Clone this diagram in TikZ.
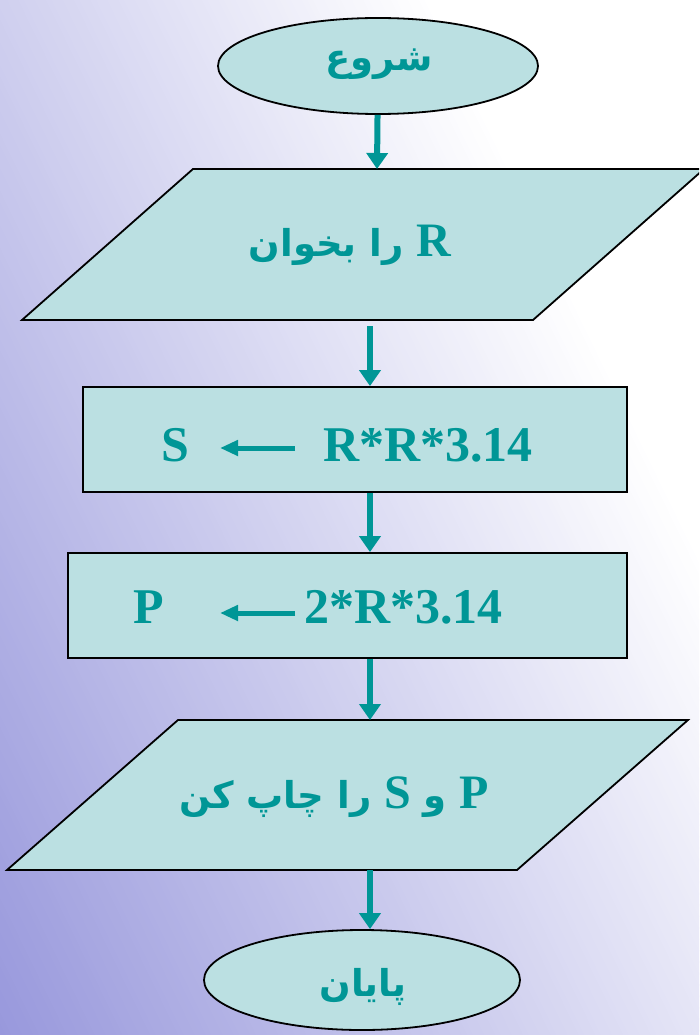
\documentclass[tikz,border=0pt]{standalone}
\usepackage{fontspec}
\setmainfont{Liberation Serif}
\newfontfamily\arfont[Script=Arabic]{DejaVu Sans}
\newfontfamily\latfont{Liberation Serif}
\TeXXeTstate=1
\usetikzlibrary{arrows.meta,shapes.geometric}
\definecolor{tealtxt}{RGB}{0,150,150}
\definecolor{boxfill}{RGB}{187,224,226}
\definecolor{bgdark}{RGB}{152,152,220}
\tikzset{
  shapebox/.style={draw=black, line width=1.8pt, fill=boxfill},
  conn/.style={draw=tealtxt, line width=6pt, -{Triangle[width=21pt,length=16pt]}},
  tarrow/.style={draw=tealtxt, line width=5pt, -{Triangle[width=15pt,length=18pt]}},
  lattxt/.style={text=tealtxt, font=\bfseries\fontsize{50}{55}\selectfont, inner sep=0pt},
  artxt/.style={text=tealtxt, font=\arfont\bfseries\fontsize{37}{44}\selectfont, inner sep=0pt},
}
\newcommand{\latR}[1]{{\latfont\bfseries\fontsize{48}{50}\selectfont #1}}
\begin{document}
\begin{tikzpicture}[x=1pt,y=-1pt]
\useasboundingbox (0,0) rectangle (699,1035);
\begin{scope}
\clip (0,0) rectangle (699,1035);
\fill[white] (0,0) rectangle (699,1035);
\begin{scope}[shift={(0,1035)}, y=1pt, rotate=26]
\foreach \i in {0,...,170} {
  \pgfmathsetmacro\tt{max(0,100-0.119*(\i*5+2.5))}
  \fill[bgdark!\tt!white] (\i*5,-450) rectangle (\i*5+5.6,1050);
}
\end{scope}
% start
\node[shapebox, ellipse, minimum width=320pt, minimum height=96pt, inner sep=0pt] (start) at (378,66) {};
\node[artxt] (starttxt) at (379,64) {\beginR شروع\endR};
% input parallelogram
\draw[shapebox] (22,320) -- (193,169) -- (704,169) -- (533,320) -- cycle;
\coordinate (p1n) at (377,169);
\coordinate (p1s) at (370,326);
\node[artxt] (intxt) at (350,245) {\beginR\latR{R} را بخوان\endR};
% rect 1
\node[shapebox, rectangle, minimum width=544pt, minimum height=105pt, inner sep=0pt] (r1) at (355,439.5) {};
\node[lattxt, anchor=base] (s1) at (175,461) {S};
\node[lattxt, anchor=base west] (e1) at (323,461) {R*R*3.14};
\coordinate (a1s) at (295,448);
\coordinate (a1e) at (220,448);
% rect 2
\node[shapebox, rectangle, minimum width=559pt, minimum height=105pt, inner sep=0pt] (r2) at (347.5,605.5) {};
\node[lattxt, anchor=base] (s2) at (149,623) {P};
\node[lattxt, anchor=base west] (e2) at (304,623) {2*R*3.14};
\coordinate (a2s) at (295,613);
\coordinate (a2e) at (220,613);
% output parallelogram
\draw[shapebox] (7,870) -- (178,720) -- (688,720) -- (517,870) -- cycle;
\coordinate (p2n) at (370,720);
\coordinate (p2s) at (370,870);
\node[artxt] (outtxt) at (334,797) {\beginR\latR{P} و \latR{S} را چاپ کن\endR};
% end
\node[shapebox, ellipse, minimum width=316pt, minimum height=100pt, inner sep=0pt] (stop) at (362,980) {};
\node[artxt] (stoptxt) at (363,987) {\beginR پایان\endR};
\end{scope}
% connectors
\draw[conn] (start) -- (p1n);
\draw[conn] (p1s) -- (p1s |- r1.north);
\draw[conn] (r1.south -| p1s) -- (p1s |- r2.north);
\draw[conn] (r2.south -| p2n) -- (p2n);
\draw[conn] (p2s) -- (p2s |- stop.north);
\draw[tarrow] (a1s) -- (a1e);
\draw[tarrow] (a2s) -- (a2e);
\end{tikzpicture}
\end{document}
